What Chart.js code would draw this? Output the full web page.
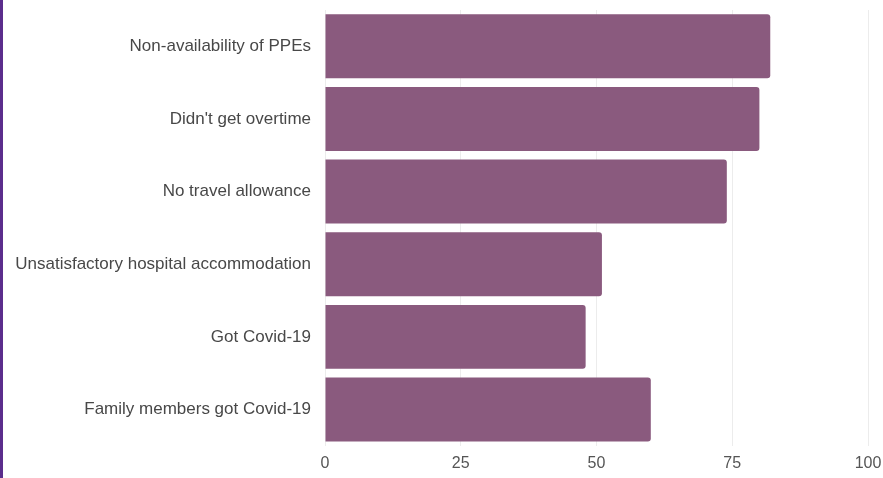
<!DOCTYPE html>
<html>
<head>
<meta charset="utf-8">
<script src="https://cdn.jsdelivr.net/npm/chart.js@4"></script>
<style>
html,body{margin:0;padding:0;background:#fff;}
#wrap{position:absolute;left:0;top:0;width:883px;height:478px;border-left:3px solid #5b2d8c;box-sizing:border-box;}
canvas{position:absolute;left:0;top:0;}
</style>
</head>
<body>
<div id="wrap"><canvas id="c" width="880" height="478"></canvas></div>
<script>
const categories = ["Non-availability of PPEs","Didn't get overtime","No travel allowance","Unsatisfactory hospital accommodation","Got Covid-19","Family members got Covid-19"];
const values = [82, 80, 74, 51, 48, 60];
const xTicks = [0, 25, 50, 75, 100];

new Chart(document.getElementById('c'), {
  type: 'bar',
  data: {
    labels: categories,
    datasets: [{
      data: values,
      backgroundColor: '#8a5a7e',
      borderRadius: 3,
      borderSkipped: 'start',
      barPercentage: 0.88,
      categoryPercentage: 1.0
    }]
  },
  options: {
    indexAxis: 'y',
    responsive: false,
    animation: false,
    layout: { padding: { top: 10, right: 15, bottom: -3, left: 0 } },
    plugins: { legend: { display: false }, tooltip: { enabled: false } },
    scales: {
      x: {
        min: 0, max: 100,
        afterBuildTicks: (s) => { s.ticks = xTicks.map(v => ({ value: v })); },
        afterFit: (s) => { s.paddingLeft = 0; s.paddingRight = 0; },
        grid: { color: '#ececec', drawTicks: false },
        border: { display: false },
        ticks: { color: '#555', font: { family: 'Liberation Sans', size: 16 }, padding: 8 }
      },
      y: {
        grid: { display: false, drawTicks: false },
        border: { display: false },
        afterFit: (s) => { s.width = 322; s.paddingTop = 0; s.paddingBottom = 0; },
        ticks: { color: '#484848', font: { family: 'Liberation Sans', size: 17 }, padding: 14 }
      }
    }
  }
});
</script>
</body>
</html>
